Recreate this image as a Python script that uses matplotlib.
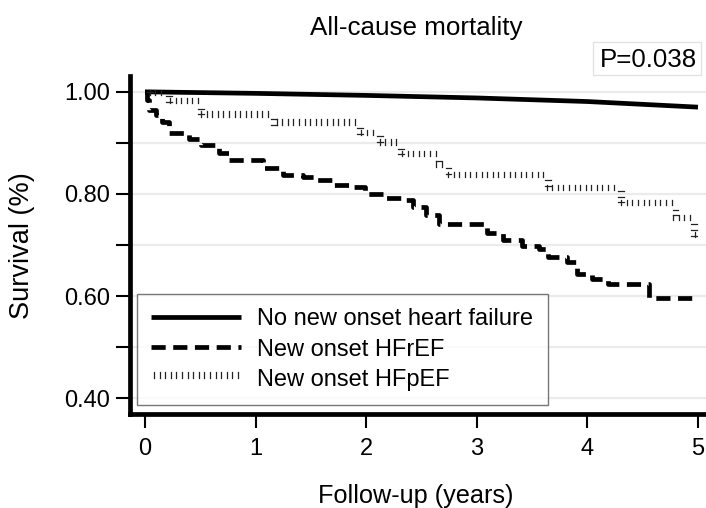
import matplotlib
matplotlib.use("Agg")
import matplotlib.pyplot as plt
import matplotlib.patheffects as pe
from matplotlib.patches import Rectangle
import numpy as np

plt.rcParams['font.family'] = ['Liberation Sans', 'DejaVu Sans']

# Data
t_none = [0, 1, 2, 3, 4, 5]
s_none = [1.0, 0.997, 0.993, 0.988, 0.981, 0.970]

t_hfref = [0, 0.02, 0.04, 0.10, 0.15, 0.22, 0.40, 0.51, 0.67, 0.76, 1.07, 1.25, 1.43,
           1.55, 1.71, 1.87, 1.99, 2.17, 2.32, 2.42, 2.54, 2.66, 3.09, 3.24, 3.41, 3.56,
           3.64, 3.82, 3.91, 4.04, 4.19, 4.56, 5.0]
s_hfref = [1.0, 0.984, 0.965, 0.955, 0.941, 0.919, 0.907, 0.896, 0.880, 0.866, 0.850,
           0.837, 0.833, 0.827, 0.817, 0.813, 0.800, 0.793, 0.788, 0.774, 0.758, 0.742,
           0.723, 0.709, 0.699, 0.693, 0.676, 0.666, 0.644, 0.634, 0.624, 0.597, 0.597]

t_hfpef = [0, 0.02, 0.19, 0.48, 1.14, 1.92, 2.10, 2.29, 2.63, 2.72, 3.62, 4.28, 4.77, 4.94, 5.0]
s_hfpef = [1.0, 0.993, 0.978, 0.951, 0.935, 0.915, 0.896, 0.874, 0.853, 0.833, 0.807, 0.778,
           0.748, 0.715, 0.715]

labels = ["No new onset heart failure", "New onset HFrEF", "New onset HFpEF"]
yticks = [0.4, 0.6, 0.8, 1.0]
yticklabels = ["0.40", "0.60", "0.80", "1.00"]
xticks = [0, 1, 2, 3, 4, 5]

W, H = 706, 508
fig = plt.figure(figsize=(W / 100, H / 100), dpi=100)
ax = fig.add_axes([129.5 / W, 1 - 414 / H, 1 - 129.5 / W + 0.02, (414 - 76) / H])

# gridlines
for g in np.arange(0.4, 1.01, 0.1):
    ax.axhline(g, color='#ebebeb', lw=1.6, zorder=0)

ax.plot(t_none, s_none, color='black', lw=3.4, solid_capstyle='butt', label=labels[0], zorder=3)
ax.step(t_hfref, s_hfref, where='post', color='black', lw=3.4, dashes=[3.0, 1.6],
        label=labels[1], zorder=3)
ax.step(t_hfpef, s_hfpef, where='post', color='#222222', lw=0.9, label=labels[2], zorder=3,
        path_effects=[pe.TickedStroke(spacing=4.0, angle=90, length=1.0)])

ax.set_xlim(-0.14, 5.2)
ax.set_ylim(0.369, 1.031)

for s in ['top', 'right']:
    ax.spines[s].set_visible(False)
for s in ['left', 'bottom']:
    ax.spines[s].set_linewidth(3.4)

ax.set_yticks(np.arange(0.4, 1.01, 0.1), minor=True)
ax.set_yticks(yticks)
ax.set_yticklabels(yticklabels)
ax.set_xticks(xticks)
ax.tick_params(axis='both', which='both', direction='out', width=1.5, labelsize=17, length=10)
ax.tick_params(axis='y', which='both', pad=4)
ax.tick_params(axis='x', pad=7)

fig.text(416 / W, 1 - 503 / H, "Follow-up (years)", ha='center', va='baseline', fontsize=18.2)
fig.text(22 / W, 1 - 246 / H, "Survival (%)", ha='center', va='center', rotation=90, fontsize=19.5)

fig.text(416 / W, 1 - 35 / H, "All-cause mortality", ha='center', va='baseline', fontsize=18.7)
fig.patches.append(Rectangle((593 / W, 1 - 75 / H), 108 / W, 33 / H, transform=fig.transFigure,
                             fc='white', ec='#e2e2e2', lw=1.0))
fig.text(648.5 / W, 1 - 67 / H, "P=0.038", ha='center', va='baseline', fontsize=18.6)

leg = ax.legend(loc='lower left', bbox_to_anchor=(137 / W, 1 - 405 / H, 411 / W, 111 / H),
                bbox_transform=fig.transFigure, mode='expand', fontsize=17, frameon=True,
                fancybox=False, handlelength=3.8, handletextpad=0.68, borderaxespad=0,
                labelspacing=0.35, borderpad=0.6)
leg.get_frame().set_edgecolor('#555555')
leg.get_frame().set_linewidth(1.0)

fig.savefig("out.png", dpi=100)
